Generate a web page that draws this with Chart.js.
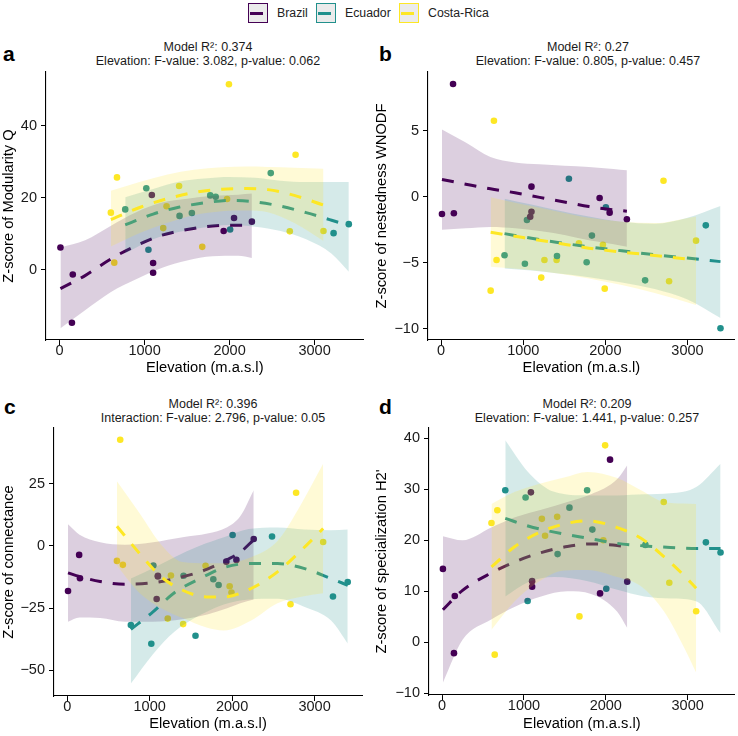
<!DOCTYPE html>
<html>
<head>
<meta charset="utf-8">
<script src="https://cdn.jsdelivr.net/npm/chart.js@4.4.1/dist/chart.umd.min.js"></script>
<style>
  body { margin: 0; background: #fff; font-family: "Liberation Sans", Arial, sans-serif; }
  #fig { position: relative; width: 738px; height: 736px; overflow: hidden; background: #fff; }
  .panel { position: absolute; }
  .letter { position: absolute; font-weight: bold; font-size: 21px; line-height: 21px; color: #000; }
  .title { position: absolute; width: 340px; text-align: center; font-size: 12.5px; line-height: 14px; color: #1a1a1a; white-space: nowrap; }
  .key { position: absolute; top: 3px; width: 18px; height: 18px; background: #ebebeb; border: 1.5px solid; }
  .key i { position: absolute; left: 1px; top: 7.5px; width: 13px; height: 3px; }
  .ltext { position: absolute; top: 5px; font-size: 12.3px; line-height: 16px; color: #222; }
</style>
</head>
<body>
<div id="fig">
  <div class="key" style="left:248px;border-color:#440154"><i style="background:#440154"></i></div>
  <div class="ltext" style="left:277px">Brazil</div>
  <div class="key" style="left:316px;border-color:#21908c"><i style="background:#21908c"></i></div>
  <div class="ltext" style="left:345px">Ecuador</div>
  <div class="key" style="left:399px;border-color:#fde725"><i style="background:#fde725"></i></div>
  <div class="ltext" style="left:428px">Costa-Rica</div>

  <div class="letter" style="left:3px;top:43px">a</div>
  <div class="letter" style="left:379px;top:43px">b</div>
  <div class="letter" style="left:4px;top:396px">c</div>
  <div class="letter" style="left:379px;top:396px">d</div>

  <div class="title" style="left:38px;top:40px">Model R²: 0.374<br>Elevation: F-value: 3.082, p-value: 0.062</div>
  <div class="title" style="left:418px;top:40px">Model R²: 0.27<br>Elevation: F-value: 0.805, p-value: 0.457</div>
  <div class="title" style="left:43px;top:397px">Model R²: 0.396<br>Interaction: F-value: 2.796, p-value: 0.05</div>
  <div class="title" style="left:417px;top:397px">Model R²: 0.209<br>Elevation: F-value: 1.441, p-value: 0.257</div>

  <canvas id="pa" class="panel" width="369" height="380" style="left:0;top:0"></canvas>
  <canvas id="pb" class="panel" width="369" height="380" style="left:369px;top:0"></canvas>
  <canvas id="pc" class="panel" width="369" height="356" style="left:0;top:380px"></canvas>
  <canvas id="pd" class="panel" width="369" height="356" style="left:369px;top:380px"></canvas>
</div>
<script>
// site elevations (m.a.s.l) per country
const elevBrazil    = [10, 145, 155, 1085, 1100, 1100, 1930, 2052, 2262];
const elevEcuador   = [772, 1020, 1045, 1411, 1556, 1772, 1836, 2006, 2484, 3223, 3402];
const elevCostaRica = [603, 643, 675, 1219, 1258, 1406, 1678, 1970, 1992, 2708, 2776, 3104];

const xTicks  = [0, 1000, 2000, 3000];
const yTicksA = [0, 20, 40];
const yTicksB = [-10, -5, 0, 5];
const yTicksC = [-50, -25, 0, 25];
const yTicksD = [-10, 0, 10, 20, 30, 40];

// a: modularity
const modBrazil    = [6.2, -14.7, -1.3, 20.8, 1.9, -0.8, 10.8, 14.4, 13.4];
const modEcuador   = [16.8, 22.7, 5.6, 15.0, 15.8, 20.7, 20.3, 11.2, 26.9, 10.2, 12.7];
const modCostaRica = [15.9, 2.0, 25.7, 11.6, 17.7, 23.3, 6.4, 19.7, 51.6, 10.7, 32.0, 10.8];

const modBrFitX = [10, 300, 600, 900, 1200, 1500, 1800, 2100, 2262];
const modBrFit  = [-5.2, -1.6, 3.0, 6.7, 9.6, 11.2, 12.2, 12.4, 12.4];
const modBrLo   = [-16.2, -11.2, -6.2, -2.6, 0.5, 2.6, 3.8, 3.9, 3.3];
const modBrHi   = [6.2, 8.2, 12.2, 16.0, 18.7, 19.8, 20.6, 20.9, 21.2];
const modEcFitX = [772, 1100, 1400, 1700, 2000, 2300, 2600, 2900, 3200, 3402];
const modEcFit  = [12.5, 15.5, 17.4, 18.6, 19.3, 18.9, 17.7, 15.9, 13.8, 12.3];
const modEcLo   = [4.6, 8.5, 10.5, 11.8, 12.5, 12.0, 10.8, 8.5, 4.5, -0.5];
const modEcHi   = [20.2, 22.5, 24.5, 25.4, 25.8, 25.6, 24.8, 24.4, 24.4, 24.4];
const modCrFitX = [603, 950, 1270, 1580, 1910, 2200, 2450, 2760, 3104];
const modCrFit  = [14.0, 17.4, 19.8, 21.5, 22.4, 22.6, 22.3, 20.7, 18.0];
const modCrLo   = [6.5, 10.3, 13.1, 15.2, 16.3, 16.5, 16.0, 13.0, 8.0];
const modCrHi   = [22.0, 24.5, 26.5, 27.8, 28.5, 28.7, 28.6, 28.4, 28.1];

// b: nestedness
const nesBrazil    = [-1.31, 8.54, -1.26, -1.52, -1.14, 0.76, -0.1, -1.21, -1.71];
const nesEcuador   = [-4.44, -5.08, -1.77, -4.49, 1.36, -4.97, -2.95, -0.8, -6.34, -2.17, -9.97];
const nesCostaRica = [-7.12, 5.76, -4.8, -6.13, -4.8, -4.8, -3.53, -3.64, -6.97, 1.21, -6.41, -3.33];

const nesBrFitX = [10, 300, 600, 900, 1200, 1500, 1800, 2100, 2262];
const nesBrFit  = [1.3, 0.95, 0.6, 0.3, -0.05, -0.4, -0.75, -1.0, -1.1];
const nesBrLo   = [-2.5, -2.4, -2.3, -2.4, -2.6, -2.9, -3.3, -3.6, -3.8];
const nesBrHi   = [5.1, 4.1, 3.0, 2.6, 2.45, 2.35, 2.25, 2.1, 2.0];
const nesEcFitX = [772, 1100, 1400, 1800, 2200, 2600, 3000, 3402];
const nesEcFit  = [-2.8, -3.15, -3.45, -3.8, -4.1, -4.4, -4.65, -4.92];
const nesEcLo   = [-5.45, -5.6, -5.8, -6.1, -6.5, -7.0, -7.8, -9.2];
const nesEcHi   = [-0.15, -0.6, -1.0, -1.5, -1.9, -2.05, -1.6, -0.7];
const nesCrFitX = [603, 1000, 1400, 1800, 2200, 2600, 3104];
const nesCrFit  = [-2.7, -3.1, -3.5, -3.9, -4.2, -4.45, -4.8];
const nesCrLo   = [-5.3, -5.5, -5.8, -6.2, -6.7, -7.3, -8.2];
const nesCrHi   = [-0.05, -0.6, -1.1, -1.6, -1.9, -2.0, -1.5];

// c: connectance
const conBrazil    = [-18.1, -3.6, -13.0, -21.3, -12.3, -12.0, -6.3, -5.6, 2.8];
const conEcuador   = [-31.8, -39.3, -7.9, -12.0, -36.1, -13.4, -15.7, 4.4, 3.8, -20.3, -14.5];
const conCostaRica = [-6.0, 42.7, -7.6, -29.2, -11.9, -31.4, -8.0, -16.2, -18.7, -23.4, 21.4, 1.6];

const conBrFitX = [10, 150, 400, 700, 1040, 1400, 1700, 1940, 2100, 2262];
const conBrFit  = [-10.8, -12.3, -14.3, -15.4, -14.8, -12.4, -9.3, -5.5, -2.5, 2.5];
const conBrLo   = [-30.5, -28.8, -29, -30.5, -30.5, -29.5, -27.5, -25, -23, -21.5];
const conBrHi   = [8.7, 4.5, 1.5, 0.5, 1.5, 3.5, 5.0, 7.5, 12, 22.4];
const conEcFitX = [772, 1040, 1300, 1600, 1900, 2200, 2550, 2880, 3200, 3402];
const conEcFit  = [-33.5, -26.5, -18.8, -13.3, -8.7, -7.1, -7.1, -9.1, -13.1, -15.8];
const conEcLo   = [-55.3, -43.5, -34.5, -28, -23.5, -21.5, -21.2, -24.5, -30, -39.2];
const conEcHi   = [-13.1, -9.0, -4.5, 0, 3.5, 6.8, 7.4, 6.6, 6.3, 6.6];
const conCrFitX = [603, 880, 1140, 1400, 1690, 1900, 2230, 2550, 2840, 3104];
const conCrFit  = [7.9, -3.1, -12.4, -17.8, -20.5, -20.5, -17.1, -10.4, -1.7, 7.0];
const conCrLo   = [-8, -19, -25, -29, -32.8, -34, -30, -23, -20.4, -19];
const conCrHi   = [26, 13, 0.5, -6.5, -7, -7, -4.5, 2, 17, 33];

// d: specialization
const speBrazil    = [14.4, -2.1, 9.1, 29.4, 12.0, 10.9, 9.6, 35.8, 11.9];
const speEcuador   = [29.8, 28.4, 8.1, 17.3, 26.4, 29.8, 22.1, 10.5, 19.1, 19.6, 17.6];
const speCostaRica = [23.4, -2.4, 25.9, 24.2, 20.9, 24.6, 5.1, 20.0, 38.6, 27.5, 11.7, 6.1];

const speBrFitX = [10, 250, 600, 890, 1210, 1530, 1820, 2140, 2262];
const speBrFit  = [6.4, 10.2, 13.6, 15.8, 17.6, 18.8, 19.3, 19.0, 18.7];
const speBrLo   = [-7.9, 0.5, 4.5, 7, 9, 10, 9.5, 6, 2.8];
const speBrHi   = [20.8, 20.0, 22.5, 24.5, 26, 27.5, 29, 32, 34.7];
const speEcFitX = [772, 1050, 1370, 1780, 2140, 2470, 2790, 3110, 3402];
const speEcFit  = [24.3, 22.8, 21.6, 20.4, 19.4, 18.9, 18.6, 18.4, 18.4];
const speEcLo   = [9.0, 11.8, 12.8, 12.0, 10.3, 9.0, 8.6, 8.0, 1.8];
const speEcHi   = [39.6, 33.4, 29.5, 28.8, 28.8, 29.0, 29.2, 30.5, 35.0];
const speCrFitX = [603, 890, 1170, 1490, 1780, 2140, 2430, 2710, 2950, 3104];
const speCrFit  = [14.8, 18.8, 21.4, 23.2, 23.8, 22.5, 20.4, 16.8, 13.2, 10.6];
const speCrLo   = [2.5, 8.1, 11.8, 14.1, 14.2, 12.8, 11, 6.1, -0.8, -5.9];
const speCrHi   = [27.1, 29.5, 31, 32.3, 33.4, 32.2, 29.8, 27.5, 27.2, 27.1];

const FONT = "'Liberation Sans', Arial, sans-serif";
Chart.defaults.font.family = FONT;

const GROUPS = [
    { elev: elevBrazil,    color: "#440154", band: "rgba(68, 1, 84, 0.19)" },
    { elev: elevEcuador,   color: "#21908c", band: "rgba(33, 144, 140, 0.19)" },
    { elev: elevCostaRica, color: "#fde725", band: "rgba(253, 231, 37, 0.19)" },
];

function pts(xs, ys) {
    return xs.map((x, i) => ({ x: x, y: ys[i] }));
}

function fmt(v) {
    return String(v).replace("-", "\u2212");
}

function drawPanel(id, p) {
    const datasets = [];

    // raw points go underneath the smoothers
    GROUPS.forEach((g, i) => {
        datasets.push({
            data: pts(g.elev, p.points[i]),
            showLine: false,
            pointRadius: 3.3,
            pointHoverRadius: 3.3,
            pointBackgroundColor: g.color,
            pointBorderWidth: 0,
            order: 100,
        });
    });

    GROUPS.forEach((g, i) => {
        const f = p.fits[i];
        const loIdx = datasets.length;
        datasets.push({
            data: pts(f[0], f[2]),
            borderWidth: 0,
            pointRadius: 0,
            fill: false,
            cubicInterpolationMode: "monotone",
            order: 52 - 10 * i,
        });
        datasets.push({
            data: pts(f[0], f[3]),
            borderWidth: 0,
            pointRadius: 0,
            fill: { target: loIdx },
            backgroundColor: g.band,
            cubicInterpolationMode: "monotone",
            order: 51 - 10 * i,
        });
        datasets.push({
            data: pts(f[0], f[1]),
            borderColor: g.color,
            borderWidth: 3,
            borderDash: [12, 11],
            borderCapStyle: "butt",
            pointRadius: 0,
            fill: false,
            cubicInterpolationMode: "monotone",
            order: 50 - 10 * i,
        });
    });

    const tickFont = { size: 14.5, family: FONT };
    const titleFont = { size: 14.7, family: FONT };
    const axisGrid = { drawOnChartArea: false, drawTicks: true, tickLength: 5, color: "#000", lineWidth: 1 };
    const axisBorder = { display: true, color: "#000", width: 1.1 };

    new Chart(document.getElementById(id), {
        type: "line",
        data: { datasets: datasets },
        options: {
            responsive: false,
            animation: false,
            devicePixelRatio: 1,
            layout: { padding: p.pad },
            plugins: { legend: { display: false }, tooltip: { enabled: false } },
            scales: {
                x: {
                    type: "linear",
                    min: -160,
                    max: 3575,
                    afterBuildTicks: (s) => { s.ticks = xTicks.map((v) => ({ value: v })); },
                    afterFit: (s) => { s.height = p.xH; },
                    ticks: { font: tickFont, color: "#1a1a1a", padding: -3, autoSkip: false, maxRotation: 0, callback: fmt },
                    grid: axisGrid,
                    border: axisBorder,
                    title: { display: true, text: "Elevation (m.a.s.l)", font: titleFont, color: "#000", padding: { top: 0, bottom: 0 } },
                },
                y: {
                    type: "linear",
                    min: p.yMin,
                    max: p.yMax,
                    afterBuildTicks: (s) => { s.ticks = p.yTicks.map((v) => ({ value: v })); },
                    afterFit: (s) => { s.width = p.yW; },
                    ticks: { font: tickFont, color: "#1a1a1a", padding: 4, autoSkip: false, callback: fmt },
                    grid: axisGrid,
                    border: axisBorder,
                    title: { display: true, text: p.yTitle, font: titleFont, color: "#000", padding: { top: p.yTitlePad, bottom: 0 } },
                },
            },
        },
    });
}

drawPanel("pa", {
    points: [modBrazil, modEcuador, modCostaRica],
    fits: [[modBrFitX, modBrFit, modBrLo, modBrHi], [modEcFitX, modEcFit, modEcLo, modEcHi], [modCrFitX, modCrFit, modCrLo, modCrHi]],
    yMin: -19.5, yMax: 55, yTicks: yTicksA, yTitle: "Z-score of Modularity Q", yTitlePad: 0,
    pad: { top: 72, right: 5.5, left: 0, bottom: 3 }, yW: 46, xH: 37,
});
drawPanel("pb", {
    points: [nesBrazil, nesEcuador, nesCostaRica],
    fits: [[nesBrFitX, nesBrFit, nesBrLo, nesBrHi], [nesEcFitX, nesEcFit, nesEcLo, nesEcHi], [nesCrFitX, nesCrFit, nesCrLo, nesCrHi]],
    yMin: -10.86, yMax: 9.45, yTicks: yTicksB, yTitle: "Z-score of nestedness WNODF", yTitlePad: 4,
    pad: { top: 72, right: 1, left: 0, bottom: 3 }, yW: 59, xH: 37,
});
drawPanel("pc", {
    points: [conBrazil, conEcuador, conCostaRica],
    fits: [[conBrFitX, conBrFit, conBrLo, conBrHi], [conEcFitX, conEcFit, conEcLo, conEcHi], [conCrFitX, conCrFit, conCrLo, conCrHi]],
    yMin: -60.3, yMax: 47.4, yTicks: yTicksC, yTitle: "Z-score of connectance", yTitlePad: 0,
    pad: { top: 48, right: 7, left: 0, bottom: 3 }, yW: 54, xH: 37,
});
drawPanel("pd", {
    points: [speBrazil, speEcuador, speCostaRica],
    fits: [[speBrFitX, speBrFit, speBrLo, speBrHi], [speEcFitX, speEcFit, speEcLo, speEcHi], [speCrFitX, speCrFit, speCrLo, speCrHi]],
    yMin: -10.3, yMax: 42, yTicks: yTicksD, yTitle: "Z-score of specialization H2'", yTitlePad: 4,
    pad: { top: 48, right: 0.5, left: 0, bottom: 3 }, yW: 60, xH: 38,
});
</script>
</body>
</html>
